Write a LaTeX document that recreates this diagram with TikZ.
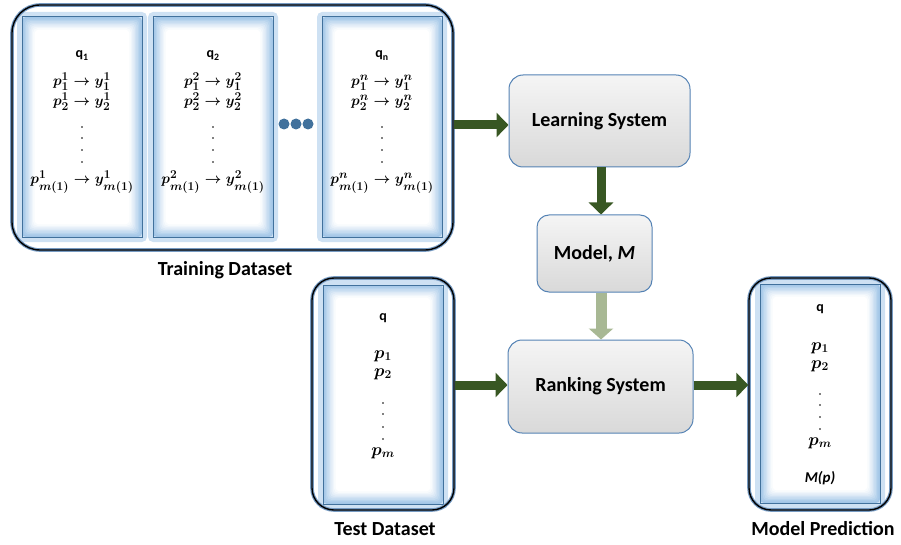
\documentclass[tikz,border=0pt]{standalone}
\usepackage{amsmath}
\usepackage{amssymb}
\usepackage[no-math]{fontspec}
\setmainfont{Carlito}
\usetikzlibrary{arrows.meta}
\DeclareMathSizes{15}{15}{12}{9}
\DeclareMathSizes{17}{17}{13}{10}

\definecolor{panelblue}{RGB}{65,113,156}
\definecolor{glowblue}{RGB}{157,195,230}
\definecolor{boxedge}{RGB}{84,130,180}
\definecolor{arrowgreen}{RGB}{56,87,35}
\definecolor{dotgreen}{RGB}{168,184,148}

\newcommand{\tightlines}{\setlength{\lineskiplimit}{-20pt}\setlength{\lineskip}{0pt}}

% soft blue panel, corners x1 y1 x2 y2
\newcommand{\glowpanel}[4]{%
  \fill[glowblue!50, rounded corners=5] (#1-5,#2-5) rectangle (#3+5,#4+5);
  \foreach \i/\c in {0/95,1/85,2/72,3/60,4/48,5/36,6/25,7/15,8/7,9/0}
    \fill[glowblue!\c!white, rounded corners=4] (#1+\i*1.4,#2+\i*1.4) rectangle (#3-\i*1.4,#4-\i*1.4);
  \draw[panelblue, line width=1] (#1,#2) rectangle (#3,#4);
}

\begin{document}
\begin{tikzpicture}[x=1pt, y=-1pt, > = stealth,
    outerbox/.style={rectangle, draw=black, line width=1.4pt, inner sep=0,
      preaction={draw=boxedge!80, line width=3.6pt}},
    sysbox/.style={rectangle, rounded corners=14pt, draw=boxedge, line width=1pt,
      top color=gray!8, middle color=gray!30, bottom color=gray!30, inner sep=0,
      font=\fontsize{20}{24}\selectfont\bfseries},
    qtext/.style={anchor=base, font=\fontsize{14}{16}\selectfont\bfseries},
    ptext/.style={anchor=base, align=center,
      font=\fontsize{15}{20}\selectfont\boldmath\tightlines},
    bigptext/.style={anchor=base, align=center,
      font=\fontsize{17}{18}\selectfont\boldmath\tightlines},
    caption/.style={anchor=base, font=\fontsize{20}{24}\selectfont\bfseries},
    bigarrow/.style={draw=arrowgreen, line width=9pt, -{Triangle[length=12pt,width=24pt]}},
    dotarrow/.style={draw=dotgreen, line width=11pt, -{Triangle[length=11pt,width=24pt]}}]
  \useasboundingbox (0,0) rectangle (901,545);

  % training dataset
  \glowpanel{22}{17}{142}{237}
  \glowpanel{153}{17}{273}{237}
  \glowpanel{322}{17}{442}{237}
  \foreach \cx/\k in {82/1, 213/2, 382/n}{
    \node[qtext] (q\k) at (\cx,58) {q\textsubscript{\k}};
    \node[ptext] (a\k) at (\cx,106) {$p^{\k}_1 \to y^{\k}_1$\\$p^{\k}_2 \to y^{\k}_2$};
    \foreach \dy in {127,138,150,162}
      \fill (\cx,\dy) circle (0.9);
    \node[ptext] (c\k) at (\cx,184) {$p^{\k}_{m(1)} \to y^{\k}_{m(1)}$};
  }
  \foreach \dx in {284,296,308}
    \fill[panelblue] (\dx,124) circle (5.5);
  \node[outerbox, rounded corners=28pt, minimum width=441pt, minimum height=245pt] (train) at (232.5,127.5) {};
  \node[caption] (trainlbl) at (225,275) {Training Dataset};

  % test dataset
  \glowpanel{323}{285}{443}{504}
  \node[qtext] (qt) at (383,320) {q};
  \node[bigptext] (pt) at (383,376) {$p_1$\\$p_2$};
  \foreach \dy in {403,414,427,439}
    \fill (383,\dy) circle (0.9);
  \node[bigptext] (ptm) at (383,455) {$p_m$};
  \node[outerbox, rounded corners=22pt, minimum width=142pt, minimum height=232pt] (test) at (383,394) {};
  \node[caption] (testlbl) at (385,535) {Test Dataset};

  % model prediction
  \glowpanel{760}{284}{880}{503}
  \node[qtext] (qp) at (820,311) {q};
  \node[bigptext] (pp) at (820,368) {$p_1$\\$p_2$};
  \foreach \dy in {394,405,417,429}
    \fill (820,\dy) circle (0.9);
  \node[bigptext] (ppm) at (820,445) {$p_m$};
  \node[qtext, font=\fontsize{15}{16}\selectfont\bfseries\itshape] (mp) at (820,482) {M(p)};
  \node[outerbox, rounded corners=22pt, minimum width=142pt, minimum height=232pt] (pred) at (820,394) {};
  \node[caption] (predlbl) at (823,535) {Model Prediction};

  % systems
  \node[sysbox, minimum width=181pt, minimum height=92pt] (learn) at (599.5,121) {Learning System};
  \node[sysbox, rounded corners=12pt, minimum width=115pt, minimum height=77pt] (model) at (594.5,253.5) {Model, \textit{M}};
  \node[sysbox, minimum width=185pt, minimum height=93pt] (rank) at (600.5,386.5) {Ranking System};

  % arrows
  \draw[bigarrow] (train.east |- 0,125) -- (learn.west |- 0,125);
  \draw[bigarrow] (learn.south -| 601,0) -- (model.north -| 601,0);
  \draw[dotarrow] (model.south -| 601,0) -- (rank.north -| 601,0);
  \draw[bigarrow] (test.east |- 0,385) -- (rank.west |- 0,385);
  \draw[bigarrow] (rank.east |- 0,385) -- (pred.west |- 0,385);
\end{tikzpicture}
\end{document}
